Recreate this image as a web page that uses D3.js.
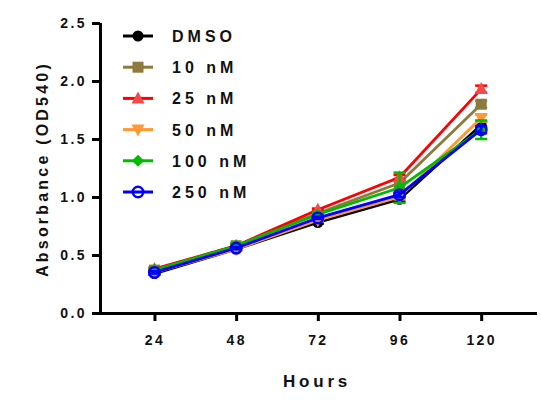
<!DOCTYPE html>
<html><head><meta charset="utf-8">
<script src="https://cdn.jsdelivr.net/npm/d3@7"></script>
<style>
body{margin:0;background:#fff;}
</style></head><body>
<svg id="c" width="541" height="405"></svg>
<script>
const hours = [24, 48, 72, 96, 120];
const seriesNames = ["DMSO", "10 nM", "25 nM", "50 nM", "100 nM", "250 nM"];
const dmso   = [0.34, 0.55, 0.78, 0.98, 1.62];
const nm10   = [0.37, 0.58, 0.86, 1.12, 1.80];
const nm25   = [0.38, 0.58, 0.89, 1.17, 1.93];
const nm50   = [0.35, 0.55, 0.80, 1.00, 1.68];
const nm100  = [0.37, 0.58, 0.85, 1.08, 1.58];
const nm250  = [0.35, 0.56, 0.82, 1.02, 1.58];
const err100 = [0.02, 0.02, 0.02, 0.13, 0.08];
const errSmall = [0.01, 0.01, 0.01, 0.02, 0.03];
const yTicks = [0.0, 0.5, 1.0, 1.5, 2.0, 2.5];
const colors = ["#000000", "#8c7b3a", "#ff0000", "#ff9933", "#00bb00", "#0000ff"];
const markerFill = ["#000000", "#8c7b3a", "#f24a4a", "#ff9933", "#00bb00", "none"];
const shapes = ["circle", "square", "triUp", "triDown", "diamond", "openCircle"];
const values = [dmso, nm10, nm25, nm50, nm100, nm250];
const errors = [errSmall, errSmall, errSmall, errSmall, err100, errSmall];

const FONT = "'Liberation Sans', Arial, sans-serif";
const svg = d3.select("#c");
const mL = 100, mR = 537, mT = 23, mB = 313;
const x = d3.scaleLinear().domain([8, 136.4]).range([mL, mR]);
const y = d3.scaleLinear().domain([0, 2.5]).range([mB, mT]);

// axes
const yAxis = svg.append("g").attr("transform", `translate(${mL},0)`)
  .call(d3.axisLeft(y).tickValues(yTicks).tickFormat(d3.format(".1f")).tickSize(8).tickPadding(5));
const xAxis = svg.append("g").attr("transform", `translate(0,${mB})`)
  .call(d3.axisBottom(x).tickValues(hours).tickSize(8).tickPadding(14));
[yAxis, xAxis].forEach(g => {
  g.select(".domain").attr("stroke", "#000").style("stroke-width", "3px");
  g.selectAll(".tick line").attr("stroke", "#000").style("stroke-width", "3px");
  g.selectAll("text").style("font-size", "14px").style("letter-spacing", "2.4px")
    .style("font-family", FONT).style("font-weight", "bold").style("fill", "#111");
});
xAxis.select(".domain").attr("d", `M${mL - 1},0.5H${mR}`);
yAxis.select(".domain").attr("d", `M0.5,${mT}V${mB + 2}`);

svg.append("text").attr("x", 317).attr("y", 387).attr("text-anchor", "middle")
  .style("font-family", FONT).style("font-weight", "bold").style("fill", "#111")
  .style("font-size", "17px").style("letter-spacing", "3.8px").text("Hours");
svg.append("text").attr("transform", "translate(48,169) rotate(-90)").attr("text-anchor", "middle")
  .style("font-family", FONT).style("font-weight", "bold").style("fill", "#111")
  .style("font-size", "16px").style("letter-spacing", "3.2px").text("Absorbance (OD540)");

function marker(g, shape, cx, cy, col, fill) {
  const s = 5.5;
  if (shape === "circle") g.append("circle").attr("cx", cx).attr("cy", cy).attr("r", s).attr("fill", fill);
  else if (shape === "openCircle") g.append("circle").attr("cx", cx).attr("cy", cy).attr("r", s - 0.3).attr("fill", "none").attr("stroke", col).attr("stroke-width", 2.6);
  else if (shape === "square") g.append("rect").attr("x", cx - s).attr("y", cy - s).attr("width", 2 * s).attr("height", 2 * s).attr("fill", fill);
  else if (shape === "triUp") g.append("path").attr("d", `M${cx},${cy - 7}L${cx + 6.5},${cy + 5}L${cx - 6.5},${cy + 5}Z`).attr("fill", fill);
  else if (shape === "triDown") g.append("path").attr("d", `M${cx},${cy + 7}L${cx + 6.5},${cy - 5}L${cx - 6.5},${cy - 5}Z`).attr("fill", fill);
  else if (shape === "diamond") g.append("path").attr("d", `M${cx},${cy - 6}L${cx + 6},${cy}L${cx},${cy + 6}L${cx - 6},${cy}Z`).attr("fill", fill);
}

const line = d3.line().x((d, i) => x(hours[i])).y(d => y(d));
values.forEach((vals, si) => {
  const g = svg.append("g");
  vals.forEach((v, i) => {
    const e = errors[si][i];
    const cx = x(hours[i]);
    g.append("line").attr("x1", cx).attr("x2", cx).attr("y1", y(v - e)).attr("y2", y(v + e))
      .attr("stroke", colors[si]).attr("stroke-width", 2.5);
    [v - e, v + e].forEach(w => g.append("line").attr("x1", cx - 6).attr("x2", cx + 6)
      .attr("y1", y(w)).attr("y2", y(w)).attr("stroke", colors[si]).attr("stroke-width", 2.5));
  });
  g.append("path").datum(vals).attr("d", line).attr("fill", "none")
    .attr("stroke", colors[si]).attr("stroke-width", 2.8);
  vals.forEach((v, i) => marker(g, shapes[si], x(hours[i]), y(v), colors[si], markerFill[si]));
});

// legend
const lg = svg.append("g");
seriesNames.forEach((name, i) => {
  const ly = 36 + i * 31.2;
  lg.append("line").attr("x1", 123).attr("x2", 153).attr("y1", ly).attr("y2", ly)
    .attr("stroke", colors[i]).attr("stroke-width", 3);
  marker(lg, shapes[i], 138, ly, colors[i], markerFill[i]);
  lg.append("text").attr("x", 172).attr("y", ly + 6)
    .style("font-family", FONT).style("font-weight", "bold").style("fill", "#111")
    .style("font-size", "16px").style("letter-spacing", "4px").text(name);
});
</script></body></html>
